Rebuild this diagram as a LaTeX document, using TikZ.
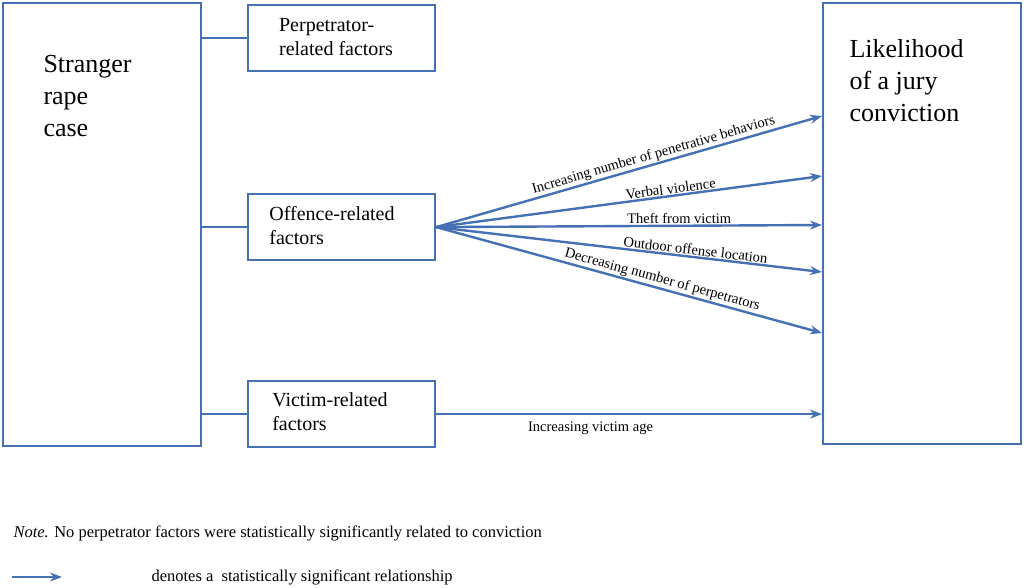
\documentclass[tikz,border=0pt]{standalone}
\usepackage{fontspec}
\setmainfont{Liberation Serif}
\usetikzlibrary{arrows.meta}
\definecolor{lineblue}{RGB}{70,112,180}
\begin{document}
\begin{tikzpicture}[x=1pt,y=-1pt,
	box/.style={draw=lineblue,line width=2.2pt,align=left,anchor=north west,inner sep=0pt},
	link/.style={draw=lineblue,line width=2.4pt},
	sig/.style={link,-{Stealth[length=12pt,width=9pt]}},
	lab/.style={font=\fontsize{14.5}{15}\selectfont,inner sep=1pt}]
	\useasboundingbox (0,0) rectangle (1024,588);
	\node[box,minimum width=198,minimum height=443] (S) at (2,2) {};
	\node[font=\fontsize{26}{32}\selectfont,align=left,anchor=north west] at (40,52) {Stranger\\rape\\case};
	\node[box,minimum width=198,minimum height=441] (L) at (822,2) {};
	\node[font=\fontsize{26}{32}\selectfont,align=left,anchor=north west] at (846,36) {Likelihood\\of a jury\\conviction};
	\node[box,minimum width=187,minimum height=66] (P) at (247,4) {};
	\node[font=\fontsize{20}{24}\selectfont,align=left] at (336,37) {Perpetrator-\\related factors};
	\node[box,minimum width=187,minimum height=66] (O) at (247,193) {};
	\node[font=\fontsize{20}{24}\selectfont,align=left] at (332,226) {Offence-related\\factors};
	\node[box,minimum width=187,minimum height=66] (V) at (247,380) {};
	\node[font=\fontsize{20}{24}\selectfont,align=left] at (330,412) {Victim-related\\factors};

	\draw[link] (S.east |- P.west) -- (P.west);
	\draw[link] (S.east |- O.west) -- (O.west);
	\draw[link] (S.east |- V.west) -- (V.west);

	\coordinate (t1) at (822,116);
	\coordinate (t2) at (822,176);
	\coordinate (t3) at (822,225);
	\coordinate (t4) at (822,272);
	\coordinate (t5) at (822,333);
	\draw[sig] (O.east) -- node[lab,pos=0.57,sloped,above] {Increasing number of penetrative behaviors} (t1);
	\draw[sig] (O.east) -- node[lab,pos=0.61,sloped,above] {Verbal violence} (t2);
	\draw[sig] (O.east) -- node[lab,pos=0.63,sloped,above] {Theft from victim} (t3);
	\draw[sig] (O.east) -- node[lab,pos=0.67,sloped,above] {Outdoor offense location} (t4);
	\draw[sig] (O.east) -- node[lab,pos=0.58,sloped,above] {Decreasing number of perpetrators} (t5);
	\draw[sig] (V.east) -- node[lab,pos=0.4,below=6pt] {Increasing victim age} (V.east -| L.west);

	\node[font=\fontsize{16.5}{18}\selectfont,anchor=west] (note) at (10,533) {\textit{Note.} No perpetrator factors were statistically significantly related to conviction};
	\coordinate (k0) at (12,577);
	\node[font=\fontsize{16.5}{18}\selectfont,anchor=west] (key) at (148,577) {denotes a\ \ statistically significant relationship};
	\draw[sig] (k0) -- (62,577);
\end{tikzpicture}
\end{document}
